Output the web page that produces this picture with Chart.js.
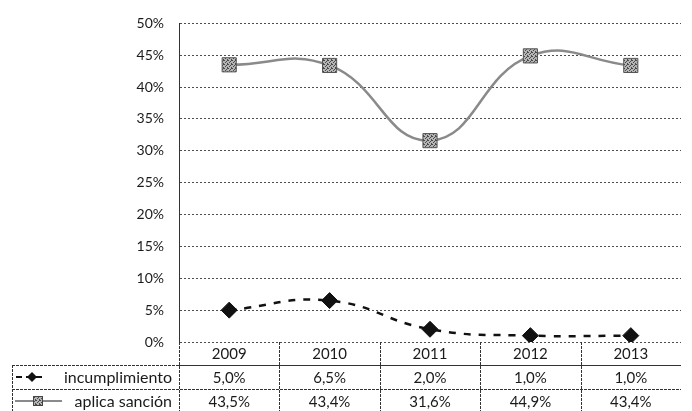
<!DOCTYPE html>
<html>
<head>
<meta charset="utf-8">
<script src="https://cdn.jsdelivr.net/npm/chart.js@4/dist/chart.umd.min.js"></script>
<style>
  html, body { margin: 0; padding: 0; background: #fff; }
  #wrap { width: 692px; height: 411px; position: relative; }
</style>
</head>
<body>
<div id="wrap"><canvas id="chart"></canvas></div>
<script>
const years = ['2009', '2010', '2011', '2012', '2013'];
const incumplimiento = [5.0, 6.5, 2.0, 1.0, 1.0];
const aplicaSancion = [43.5, 43.4, 31.6, 44.9, 43.4];
const seriesLabels = ['incumplimiento', 'aplica sanción'];
const yTicks = [0, 5, 10, 15, 20, 25, 30, 35, 40, 45, 50];

const FONT = 'Lato, "Open Sans", sans-serif';
const TEXT = '#1a1a1a';

const canvas = document.getElementById('chart');
const ctx0 = canvas.getContext('2d');

// speckled grey fill, like the scanned square markers
const squarePattern = (function makePattern() {
  const tile = document.createElement('canvas');
  tile.width = 4;
  tile.height = 4;
  const t = tile.getContext('2d');
  t.fillStyle = '#b5b5b5';
  t.fillRect(0, 0, 4, 4);
  t.fillStyle = '#4a4a4a';
  [[0, 0], [2, 1], [1, 2], [3, 3], [3, 0]].forEach(([x, y]) => t.fillRect(x, y, 1, 1));
  return ctx0.createPattern(tile, 'repeat');
}());

const formatPct = (v) => `${v.toFixed(1).replace('.', ',')}%`;

/**
 * @description Draws the Excel-style data table under the plot, columns taken
 *    from the x scale so they line up with the points.
 */
const dataTablePlugin = {
  id: 'dataTable',
  afterDraw(chart) {
    const { ctx, chartArea } = chart;
    const xScale = chart.scales.x;
    const colW = (chartArea.right - chartArea.left) / years.length;
    const tableLeft = 12;
    const top = chartArea.bottom;
    const rows = [top, top + 23, top + 47, top + 71];
    const rowValues = [incumplimiento, aplicaSancion];

    ctx.save();
    ctx.strokeStyle = '#333';
    ctx.lineWidth = 1;
    ctx.setLineDash([3, 1]);

    // horizontal rules
    [[chartArea.left, rows[1]], [tableLeft, rows[1]], [tableLeft, rows[2]]].forEach(([x0, y]) => {
      ctx.beginPath();
      ctx.moveTo(x0, y + 0.5);
      ctx.lineTo(chartArea.right, y + 0.5);
      ctx.stroke();
    });

    // vertical rules
    ctx.beginPath();
    ctx.moveTo(tableLeft + 0.5, rows[1]);
    ctx.lineTo(tableLeft + 0.5, rows[3]);
    for (let i = 0; i < years.length; i += 1) {
      const x = Math.round(chartArea.left + i * colW) + 0.5;
      ctx.moveTo(x, rows[0]);
      ctx.lineTo(x, rows[3]);
    }
    ctx.stroke();
    ctx.setLineDash([]);

    ctx.fillStyle = TEXT;
    ctx.font = `15px ${FONT}`;
    ctx.textAlign = 'center';
    ctx.textBaseline = 'middle';
    years.forEach((year, i) => {
      const cx = xScale.getPixelForValue(i);
      ctx.fillText(year, cx, (rows[0] + rows[1]) / 2 + 1);
      rowValues.forEach((vals, r) => {
        ctx.fillText(formatPct(vals[i]), cx, (rows[r + 1] + rows[r + 2]) / 2 + 1);
      });
    });

    // series names, right aligned against the plot edge
    ctx.font = `16px ${FONT}`;
    ctx.textAlign = 'right';
    seriesLabels.forEach((label, r) => {
      ctx.fillText(label, chartArea.left - 7, (rows[r + 1] + rows[r + 2]) / 2 + 1);
    });

    // legend keys
    const y1 = (rows[1] + rows[2]) / 2;
    ctx.strokeStyle = '#111';
    ctx.lineWidth = 2;
    ctx.setLineDash([6, 4]);
    ctx.beginPath();
    ctx.moveTo(16, y1);
    ctx.lineTo(45, y1);
    ctx.stroke();
    ctx.setLineDash([]);
    ctx.fillStyle = '#111';
    ctx.beginPath();
    ctx.moveTo(32, y1 - 5);
    ctx.lineTo(37, y1);
    ctx.lineTo(32, y1 + 5);
    ctx.lineTo(27, y1);
    ctx.closePath();
    ctx.fill();

    const y2 = (rows[2] + rows[3]) / 2;
    ctx.strokeStyle = '#8a8a8a';
    ctx.lineWidth = 2;
    ctx.beginPath();
    ctx.moveTo(15, y2);
    ctx.lineTo(62, y2);
    ctx.stroke();
    ctx.fillStyle = squarePattern;
    ctx.fillRect(33, y2 - 5, 10, 10);
    ctx.strokeStyle = '#444';
    ctx.lineWidth = 1;
    ctx.strokeRect(33.5, y2 - 4.5, 9, 9);
    ctx.restore();
  },
};

const chart = new Chart(canvas, {
  type: 'line',
  data: {
    labels: years,
    datasets: [
      {
        label: seriesLabels[0],
        data: incumplimiento,
        borderColor: '#111',
        borderWidth: 2.5,
        borderDash: [7, 8],
        tension: 0.45,
        pointStyle: 'rectRot',
        pointRadius: 8,
        pointHoverRadius: 8,
        pointBackgroundColor: '#111',
        pointBorderColor: '#111',
        pointBorderWidth: 1,
      },
      {
        label: seriesLabels[1],
        data: aplicaSancion,
        borderColor: '#8a8a8a',
        borderWidth: 2.5,
        tension: 0.45,
        pointStyle: 'rect',
        pointRadius: 10,
        pointHoverRadius: 10,
        pointBackgroundColor: squarePattern,
        pointBorderColor: '#555',
        pointBorderWidth: 1,
      },
    ],
  },
  options: {
    responsive: true,
    maintainAspectRatio: false,
    animation: false,
    events: [],
    layout: { padding: { top: 20, right: 0, bottom: 69, left: 0 } },
    plugins: {
      legend: { display: false },
      tooltip: { enabled: false },
    },
    scales: {
      x: {
        display: false,
        offset: true,
      },
      y: {
        min: 0,
        max: 50,
        afterFit(scale) { scale.width = 179; },
        afterBuildTicks(scale) { scale.ticks = yTicks.map((value) => ({ value })); },
        ticks: {
          padding: 15,
          color: TEXT,
          font: { family: FONT, size: 14 },
          callback: (v) => `${v}%`,
        },
        grid: {
          color: '#4d4d4d',
          lineWidth: 1,
          drawTicks: false,
        },
        border: { color: '#333', dash: [2, 2] },
      },
    },
  },
  plugins: [dataTablePlugin],
});
</script>
</body>
</html>
